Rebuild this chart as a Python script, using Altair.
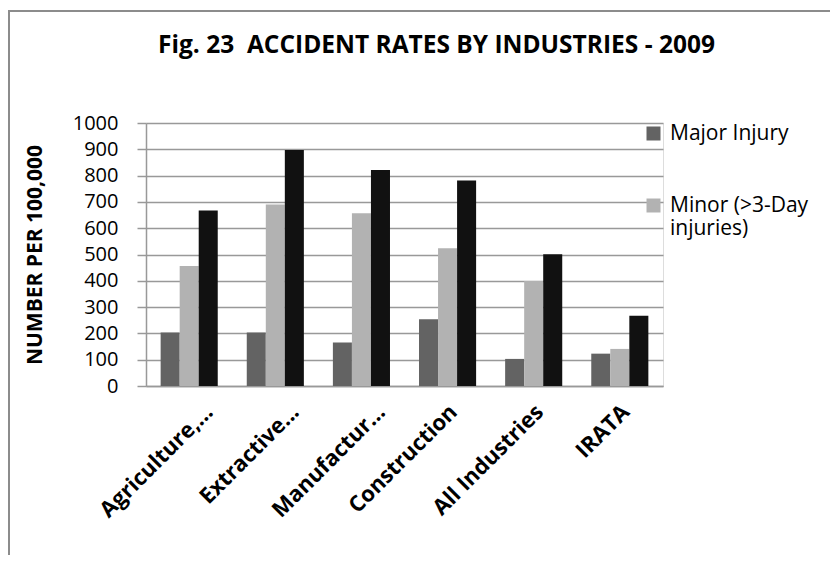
import altair as alt
import pandas as pd

categories = ["Agriculture,...", "Extractive...", "Manufactur...", "Construction", "All Industries", "IRATA"]
series = ["Major Injury", "Minor (>3-Day injuries)", "Total"]
major = [203, 203, 165, 254, 103, 123]
minor = [456, 690, 657, 524, 399, 141]
total = [667, 897, 821, 781, 501, 267]
colors = ["#636363", "#b2b2b2", "#111111"]
y_ticks = [0, 100, 200, 300, 400, 500, 600, 700, 800, 900, 1000]

rows = []
for i, c in enumerate(categories):
    for s, vals in zip(series, [major, minor, total]):
        rows.append({"category": c, "series": s, "value": vals[i]})
df = pd.DataFrame(rows)

FONT = "Open Sans"

bars = alt.Chart(df).mark_bar(stroke=None).encode(
    x=alt.X("category:N", sort=categories, title=None,
            scale=alt.Scale(paddingInner=0.337, paddingOuter=0.17),
            axis=alt.Axis(labelAngle=-45, labelAlign="right", labelBaseline="middle",
                          labelFont=FONT, labelFontSize=22, labelFontWeight="bold",
                          labelColor="#000", ticks=False, domainColor="#999",
                          domainWidth=1.5, labelPadding=22, labelLimit=300,
                          labelOffset={"expr": "indexof(datum.label, '...') >= 0 ? 20 : 6"})),
    xOffset=alt.XOffset("series:N", sort=series, scale=alt.Scale(paddingInner=0, paddingOuter=0)),
    y=alt.Y("value:Q", title="NUMBER PER 100,000",
            scale=alt.Scale(domain=[0, 1000], nice=False),
            axis=alt.Axis(values=y_ticks, format="d", labelFont=FONT, labelFontSize=20, labelColor="#000",
                          tickSize=9, tickColor="#999", tickWidth=1.5, labelPadding=19,
                          domainColor="#999", domainWidth=1.5,
                          gridColor="#999", gridWidth=1.5, grid=True,
                          titleFont=FONT, titleFontSize=21, titleFontWeight="bold",
                          titleColor="#000", titlePadding=27)),
    color=alt.Color("series:N", sort=series,
                    scale=alt.Scale(domain=series, range=colors),
                    legend=alt.Legend(title=None, orient="none", legendX=497, legendY=0,
                                      values=["Major Injury", "Minor (>3-Day injuries)"],
                                      symbolType="square", symbolSize=196, symbolStrokeWidth=0,
                                      labelFont=FONT, labelFontSize=21, labelColor="#000",
                                      labelExpr="datum.label == 'Minor (>3-Day injuries)' ? ['Minor (>3-Day', 'injuries)'] : datum.label",
                                      rowPadding=50, labelOffset=6, labelLimit=300)),
)

frame = alt.Chart(alt.Data(values=[{"a": 1}])).mark_rect(
    fill=None, stroke="#8c8c8c", strokeWidth=2
).encode(
    x=alt.value(-137), x2=alt.value(800), y=alt.value(-112), y2=alt.value(700)
)

chart = alt.layer(frame, bars).properties(
    width=517, height=263,
    padding={"left": 138, "top": 115, "right": 167, "bottom": 169},
    autosize=alt.AutoSizeParams(type="none"),
    title=alt.TitleParams("Fig. 23\u00a0 ACCIDENT RATES BY INDUSTRIES - 2009",
                          font=FONT, fontSize=24.5, fontWeight="bold", color="#000",
                          anchor="middle", dx=32, offset=0, dy=67, baseline="alphabetic"),
).configure_view(stroke=None).configure(background="white")

chart.save("out.html", embed_options={"renderer": "svg", "actions": False})
